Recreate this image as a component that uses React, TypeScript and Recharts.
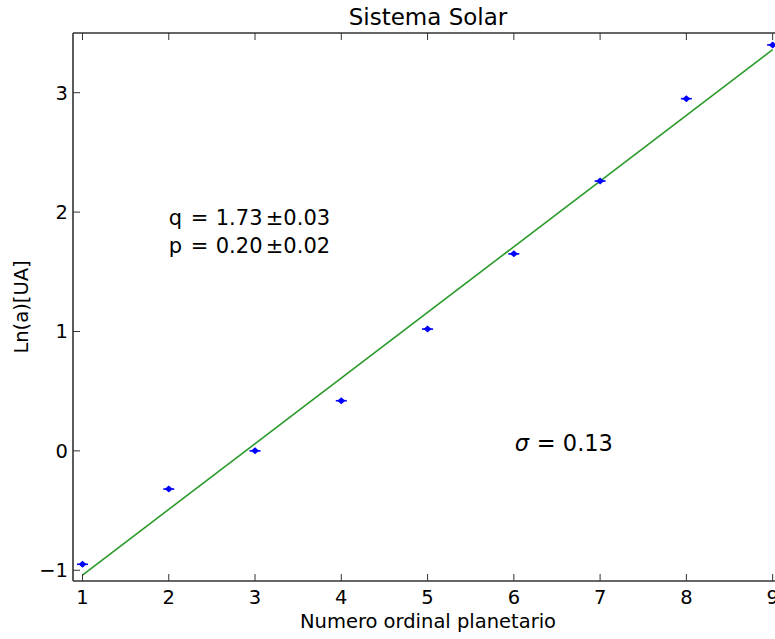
import { ComposedChart, Scatter, XAxis, YAxis, ReferenceDot, Label } from 'recharts';

// ln of semi-major axis (UA) per planet ordinal
const ordinal = [1, 2, 3, 4, 5, 6, 7, 8, 9];
const lnA = [-0.95, -0.32, 0.0, 0.42, 1.02, 1.65, 2.26, 2.95, 3.4];

// fitted line end points
const fitX = [1, 9];
const fitY = [-1.04, 3.36];

const xTicks = [1, 2, 3, 4, 5, 6, 7, 8, 9];
const yTicks = [-1, 0, 1, 2, 3];

const points = ordinal.map((n, i) => ({ n, v: lnA[i] }));
const fit = fitX.map((n, i) => ({ n, v: fitY[i] }));

const FONT = '"DejaVu Sans", sans-serif';
const AXIS = '#333';
const GREEN = '#2a9a2a';
const BLUE = '#0000ff';
const TICK_FS = 19.5;

const fmt = (v: number) => (v < 0 ? '\u2212' + Math.abs(v) : String(v));

const BottomTick = ({ x, y, payload }: any) => (
  <g>
    <line x1={x} y1={y} x2={x} y2={y - 7} stroke={AXIS} strokeWidth={1} />
    <text x={x} y={y + 23} textAnchor="middle" fontSize={TICK_FS} fontFamily={FONT} fill="#000">
      {fmt(payload.value)}
    </text>
  </g>
);

const TopTick = ({ x, y }: any) => (
  <line x1={x} y1={y} x2={x} y2={y + 7} stroke={AXIS} strokeWidth={1} />
);

const LeftTick = ({ x, y, payload }: any) => (
  <g>
    <line x1={x} y1={y} x2={x + 7} y2={y} stroke={AXIS} strokeWidth={1} />
    <text x={x - 5} y={y + 7} textAnchor="end" fontSize={TICK_FS} fontFamily={FONT} fill="#000">
      {fmt(payload.value)}
    </text>
  </g>
);

const Marker = (props: any) => {
  const { cx, cy } = props;
  return (
    <g>
      <line x1={cx - 5.5} x2={cx + 5.5} y1={cy} y2={cy} stroke={BLUE} strokeWidth={1.6} />
      <path d={`M${cx - 4},${cy} L${cx},${cy - 3.5} L${cx + 4},${cy} L${cx},${cy + 3.5} Z`} fill={BLUE} />
    </g>
  );
};

const qpLabel = ({ viewBox }: any) => {
  const { x, y } = viewBox;
  return (
    <text fontSize={21} fontFamily={FONT} fill="#000">
      <tspan x={x} y={y - 28}>q</tspan>
      <tspan x={x + 22} y={y - 28}>=</tspan>
      <tspan x={x + 47} y={y - 28}>1.73</tspan>
      <tspan x={x + 97} y={y - 28}>±0.03</tspan>
      <tspan x={x} y={y}>p</tspan>
      <tspan x={x + 22} y={y}>=</tspan>
      <tspan x={x + 47} y={y}>0.20</tspan>
      <tspan x={x + 97} y={y}>±0.02</tspan>
    </text>
  );
};

const sigmaLabel = ({ viewBox }: any) => {
  const { x, y } = viewBox;
  return (
    <text fontSize={22.5} fontFamily={FONT} fill="#000">
      <tspan x={x + 1} y={y} fontStyle="italic">σ</tspan>
      <tspan x={x + 23} y={y}>=</tspan>
      <tspan x={x + 49} y={y}>0.13</tspan>
    </text>
  );
};

export default function App() {
  return (
    <div style={{ position: 'absolute', left: 0, top: 0, width: 775, height: 639, overflow: 'hidden', background: '#fff' }}>
      <ComposedChart width={800} height={639} margin={{ top: 32, right: 17, bottom: 0, left: 1 }}>
        <XAxis
          xAxisId="top"
          orientation="top"
          type="number"
          dataKey="n"
          domain={[0.89, 9.12]}
          allowDataOverflow
          ticks={xTicks}
          height={1}
          tickSize={0}
          tickMargin={0}
          tickLine={false}
          tick={<TopTick />}
          axisLine={{ stroke: AXIS, strokeWidth: 1.6 }}
        >
          <Label
            content={({ viewBox }: any) => (
              <text x={viewBox.x + viewBox.width / 2} y={25} textAnchor="middle" fontSize={23} fontFamily={FONT} fill="#000">
                Sistema Solar
              </text>
            )}
          />
        </XAxis>
        <XAxis
          type="number"
          dataKey="n"
          domain={[0.89, 9.12]}
          allowDataOverflow
          ticks={xTicks}
          height={58}
          tickSize={0}
          tickMargin={0}
          tickLine={false}
          tick={<BottomTick />}
          axisLine={{ stroke: AXIS, strokeWidth: 1.6 }}
        >
          <Label
            content={({ viewBox }: any) => (
              <text x={viewBox.x + viewBox.width / 2} y={628} textAnchor="middle" fontSize={TICK_FS} fontFamily={FONT} fill="#000">
                Numero ordinal planetario
              </text>
            )}
          />
        </XAxis>
        <YAxis
          type="number"
          dataKey="v"
          domain={[-1.09, 3.5]}
          allowDataOverflow
          ticks={yTicks}
          width={72}
          tickSize={0}
          tickMargin={0}
          tickLine={false}
          tick={<LeftTick />}
          axisLine={{ stroke: AXIS, strokeWidth: 1.6 }}
        >
          <Label
            content={({ viewBox }: any) => {
              const cy = viewBox.y + viewBox.height / 2;
              return (
                <text x={28} y={cy} transform={`rotate(-90, 28, ${cy})`} textAnchor="middle" fontSize={TICK_FS} fontFamily={FONT} fill="#000">
                  Ln(a)[UA]
                </text>
              );
            }}
          />
        </YAxis>
        <Scatter
          xAxisId="top"
          data={fit}
          dataKey="v"
          line={{ stroke: GREEN, strokeWidth: 1.6 }}
          shape={() => <g />}
          isAnimationActive={false}
        />
        <Scatter data={points} dataKey="v" shape={<Marker />} isAnimationActive={false} />
        <ReferenceDot x={2} y={1.66} r={0} fill="none" stroke="none" label={qpLabel} />
        <ReferenceDot x={6} y={0} r={0} fill="none" stroke="none" label={sigmaLabel} />
      </ComposedChart>
    </div>
  );
}
